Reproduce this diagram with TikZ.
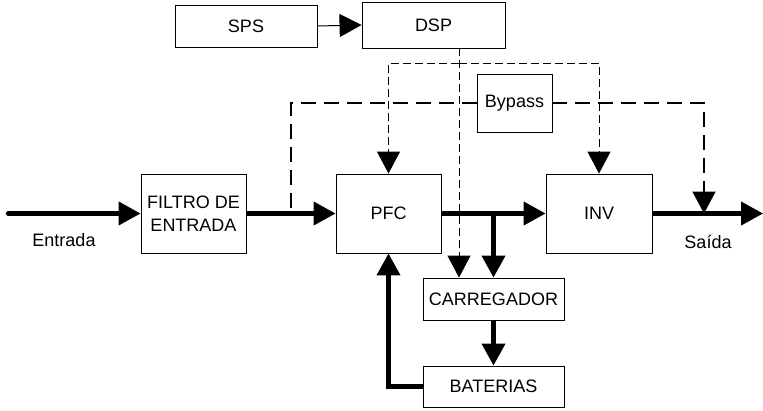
\documentclass[tikz,border=0pt]{standalone}
\usepackage{fontspec}
\setmainfont{Liberation Sans}
\usetikzlibrary{arrows.meta}
\begin{document}
\begin{tikzpicture}[x=1pt,y=-1pt,
  box/.style={draw=black,line width=0.9pt,inner sep=0pt,align=center,font=\fontsize{18}{22.5}\selectfont},
  lbl/.style={inner sep=0pt,font=\fontsize{18}{22}\selectfont},
  tip/.style={-{Triangle[length=22pt,width=23pt]}},
  power/.style={line width=4.2pt},
  ctrl/.style={line width=1pt,dash pattern=on 8pt off 4pt},
  byp/.style={line width=1.8pt,dash pattern=on 15pt off 8pt}]
\useasboundingbox (0,0) rectangle (763,410);
\node[box,minimum width=142pt,minimum height=42pt] (sps) at (246,26) {SPS};
\node[box,minimum width=143pt,minimum height=46pt] (dsp) at (433.5,25) {DSP};
\node[box,minimum width=75pt,minimum height=58pt] (bypass) at (514.5,103) {Bypass};
\node[box,minimum width=105pt,minimum height=79pt] (filtro) at (193.5,213.5) {FILTRO DE\\ENTRADA};
\node[box,minimum width=105pt,minimum height=79pt] (pfc) at (388.5,213.5) {PFC};
\node[box,minimum width=106pt,minimum height=79pt] (inv) at (599,213.5) {INV};
\node[box,minimum width=141pt,minimum height=42pt] (carr) at (493.5,299) {CARREGADOR};
\node[box,minimum width=141pt,minimum height=41pt] (bat) at (493.5,386.5) {BATERIAS};
\node[lbl] (lin) at (64,240) {Entrada};
\node[lbl] (lout) at (708,242) {Saída};
\coordinate (in) at (8,213.5);
\coordinate (out) at (763,213.5);
\coordinate (br) at (493.5,213.5);
\coordinate (d1) at (459,48);
\coordinate (j) at (459,63);
\coordinate (bl) at (291,213.5);
\coordinate (brr) at (704,213.5);
% signal
\draw[line width=1pt,tip] (sps.east) -- (dsp.west);
\draw[ctrl,tip] (d1) -- (d1 |- carr.north);
\draw[ctrl,tip] (j) -| (pfc.north);
\draw[ctrl,tip] (j) -| (inv.north);
\draw[byp] (bypass.west) -| (bl);
\draw[byp,tip] (bypass.east) -| (brr);
% power
\draw[power,line cap=round,tip] (in) -- (filtro.west);
\draw[power,tip] (filtro.east) -- (pfc.west);
\draw[power,tip] (pfc.east) -- (inv.west);
\draw[power,tip] (inv.east) -- (out);
\draw[power,tip] (br) -- (carr.north);
\draw[power,tip] (carr.south) -- (bat.north);
\draw[power,tip] (bat.west) -| (pfc.south);
\end{tikzpicture}
\end{document}
